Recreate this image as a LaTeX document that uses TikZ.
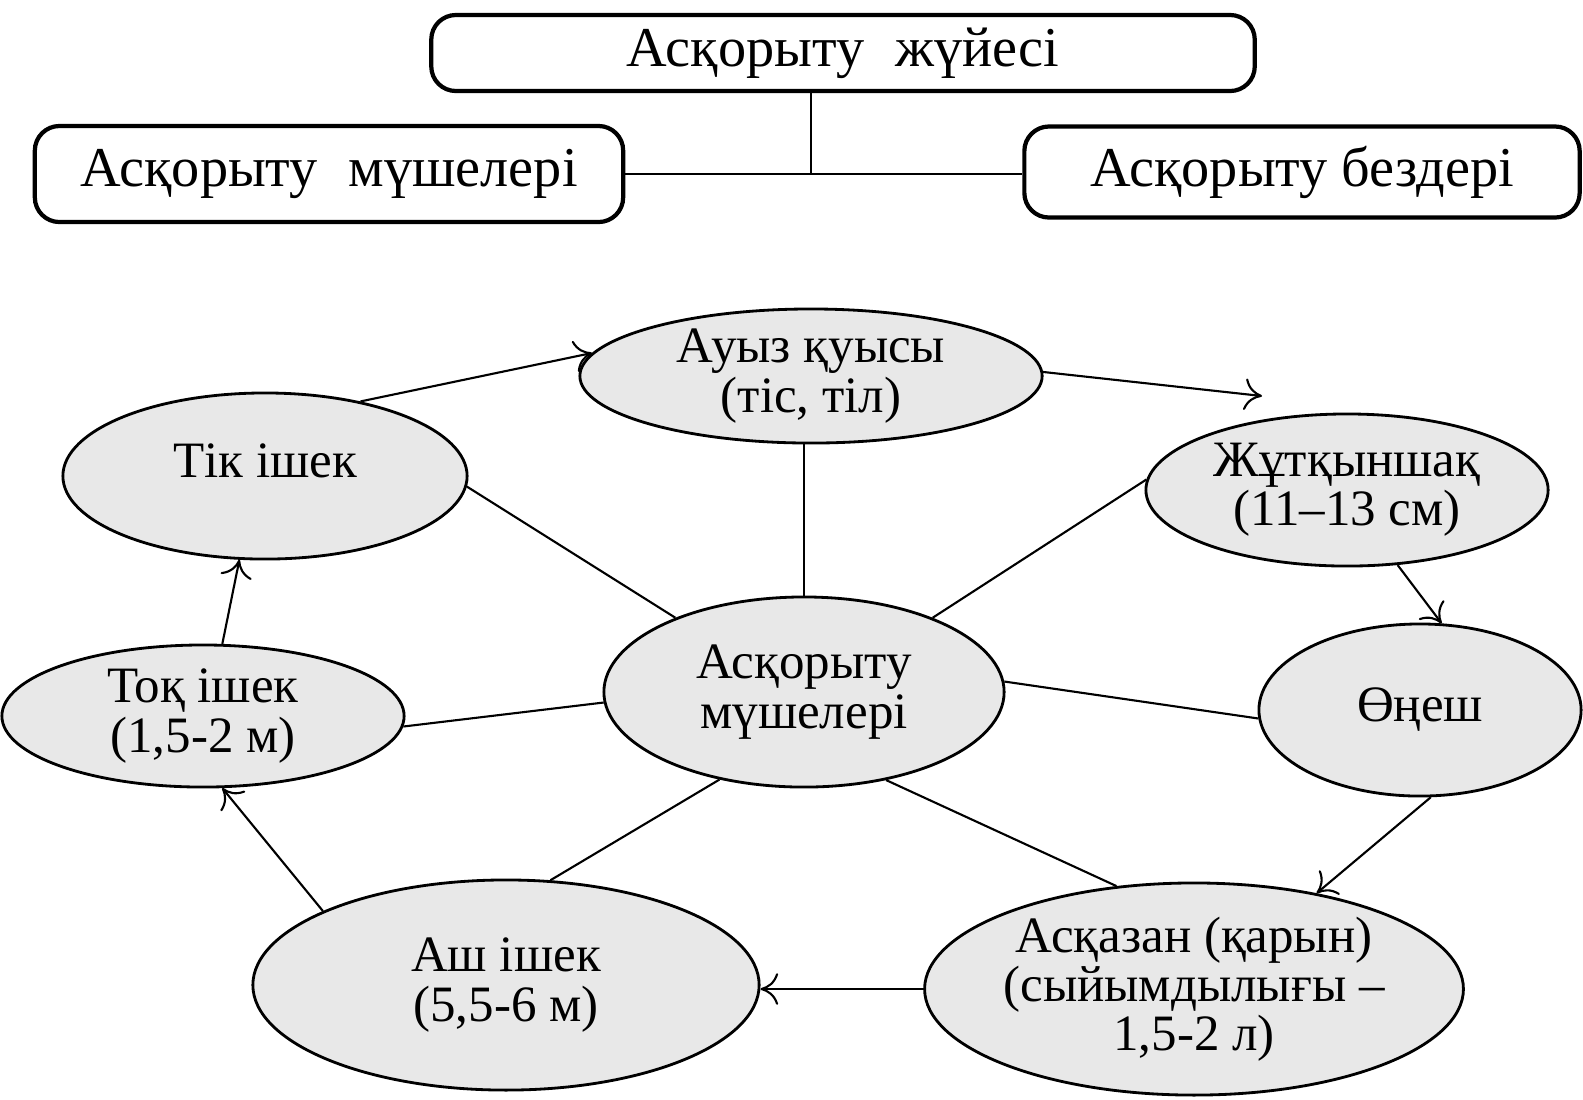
\documentclass[tikz,border=0pt]{standalone}
\usepackage{fontspec}
\setmainfont{Liberation Serif}
\usepackage{tikz}
\usetikzlibrary{arrows,arrows.meta,shapes,positioning}
\usepackage{xcolor}
\definecolor{stipple}{gray}{0.91}
\tikzstyle{sysbox} = [draw, very thick, rounded corners=7pt, fill=white, inner sep=0pt, font=\fontsize{16}{18}\selectfont]
\tikzstyle{organ} = [ellipse, draw, thick, fill=stipple, inner sep=0pt, align=center, font=\fontsize{14.5}{14}\selectfont]
\tikzstyle{spoke} = [semithick]
\tikzstyle{arrow} = [semithick,->,>={To[length=5pt,width=9pt]}]

\begin{document}
\begin{tikzpicture}[x=0.01cm, y=-0.01cm]
\useasboundingbox (0,0) rectangle (1583,1099);

% System boxes
\node[sysbox, minimum width=8.23cm, minimum height=0.76cm] (system) at (843,53) {Асқорыту\hspace{0.3em} жүйесі};
\node[sysbox, minimum width=5.88cm, minimum height=0.96cm] (organsbox) at (329,174) {Асқорыту\hspace{0.3em} мүшелері};
\node[sysbox, minimum width=5.55cm, minimum height=0.91cm] (glandsbox) at (1302,172) {Асқорыту бездері};

\coordinate (joint) at (811,174);
\draw[thick] (system.south -| joint) -- (joint);
\draw[thick] (organsbox.east) -- (organsbox.east -| glandsbox.west);

% Organs
\node[organ, minimum width=4.00cm, minimum height=1.90cm] (organs) at (804,692) {Асқорыту\\мүшелері};
\node[organ, minimum width=4.62cm, minimum height=1.34cm] (mouth) at (811,376) {Ауыз қуысы\\(тіс, тіл)};
\node[organ, minimum width=4.04cm, minimum height=1.66cm, text depth=0.3cm] (rectum) at (265,476) {Тік ішек};
\node[organ, minimum width=4.02cm, minimum height=1.52cm] (pharynx) at (1347,490) {Жұтқыншақ\\(11–13 см)};
\node[organ, minimum width=4.02cm, minimum height=1.42cm] (colon) at (203,716) {Тоқ ішек\\(1,5-2 м)};
\node[organ, minimum width=3.22cm, minimum height=1.72cm] (gullet) at (1420,710) {Өңеш};
\node[organ, minimum width=5.06cm, minimum height=2.10cm] (smallint) at (506,985) {Аш ішек\\(5,5-6 м)};
\node[organ, minimum width=5.30cm, minimum height=2.12cm] (stomach) at (1194,989) {Асқазан (қарын)\\(сыйымдылығы –\\1,5-2 л)};

% Spokes
\draw[spoke] (organs.north) -- (organs.north |- mouth.south);
\draw[spoke] (organs.150) -- (rectum.-3);
\draw[spoke] (organs.30) -- (pharynx.177);
\draw[spoke] (organs.3) -- (gullet.183);
\draw[spoke] (organs.183) -- (colon.-3);
\draw[spoke] (organs.226) -- (smallint.67);
\draw[spoke] (organs.-47) -- (stomach.127);

% Flow
\coordinate (pharynxin) at (1262,396);
\draw[arrow] (rectum.38) -- (mouth.174);
\draw[arrow] (mouth.1) -- (pharynxin);
\draw[arrow] (pharynx.-56) -- (gullet.76);
\draw[arrow] (gullet.-83) -- (stomach.38);
\draw[arrow] (stomach.west) -- (stomach.west -| smallint.east);
\draw[arrow] (smallint.158) -- (colon.-75);
\draw[arrow] (colon.75) -- (rectum.-107);
\end{tikzpicture}
\end{document}
